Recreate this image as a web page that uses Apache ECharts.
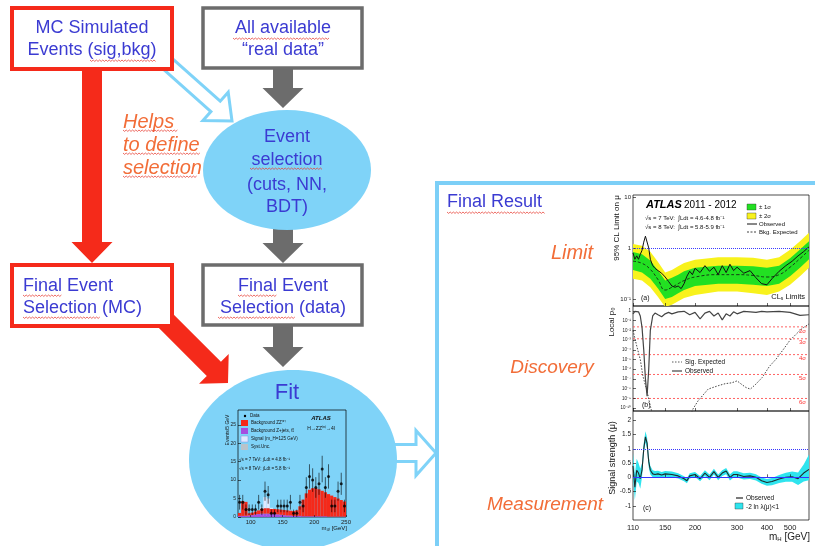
<!DOCTYPE html>
<html>
<head>
<meta charset="utf-8">
<script src="https://cdn.jsdelivr.net/npm/echarts@6/dist/echarts.min.js"></script>
<style>
  html, body { margin: 0; padding: 0; background: #fff; }
  #main { width: 815px; height: 546px; }
</style>
</head>
<body>
<div id="main"></div>
<script>
// ---------- Fit panel: H -> ZZ(*) -> 4l, 5 GeV bins ----------
const fitMass = [82.5, 87.5, 92.5, 97.5, 102.5, 107.5, 112.5, 117.5, 122.5, 127.5, 132.5, 137.5, 142.5, 147.5, 152.5, 157.5, 162.5,
  167.5, 172.5, 177.5, 182.5, 187.5, 192.5, 197.5, 202.5, 207.5, 212.5, 217.5, 222.5, 227.5, 232.5, 237.5, 242.5, 247.5]
const fitZjets = [0.3, 0.3, 0.3, 0.4, 0.5, 0.7, 0.8, 0.9, 0.9, 0.9, 0.8, 0.8, 0.7, 0.6, 0.5, 0.4, 0.4,
  0.3, 0.3, 0.3, 0.2, 0.2, 0.2, 0.2, 0.2, 0.2, 0.2, 0.2, 0.1, 0.1, 0.1, 0.1, 0.1, 0.1]
const fitZZ = [0.8, 4.0, 3.8, 0.6, 0.7, 0.8, 1.0, 1.3, 1.5, 1.5, 1.4, 1.4, 1.4, 1.4, 1.4, 1.4, 1.3,
  1.3, 1.5, 2.6, 4.5, 6.2, 7.2, 7.6, 7.6, 7.3, 6.9, 6.5, 6.1, 5.7, 5.3, 4.9, 4.5, 4.1]
const fitSignal = [0, 0, 0, 0, 0, 0, 0, 0.4, 3.0, 2.6, 0.3, 0, 0, 0, 0, 0, 0,
  0, 0, 0, 0, 0, 0, 0, 0, 0, 0, 0, 0, 0, 0, 0, 0, 0]
const fitData = [4, 4, 2, 2, 2, 2, 4, 2, 7, 6, 1, 1, 3, 3, 3, 3, 4,
  1, 1, 4, 3, 8, 11, 10, 8, 9, 13, 8, 11, 3, 3, 7, 9, 3]
const fitErr = [2, 2, 1.4, 1.4, 1.4, 1.4, 2, 1.4, 2.6, 2.4, 1, 1, 1.7, 1.7, 1.7, 1.7, 2,
  1, 1, 2, 1.7, 2.8, 3.3, 3.2, 2.8, 3, 3.6, 2.8, 3.3, 1.7, 1.7, 2.6, 3, 1.7]
const fitXTicks = [100, 150, 200, 250]
const fitYTicks = [0, 5, 10, 15, 20, 25]

// ---------- (a) 95% CL limit on mu ----------
const massExp = [110, 120, 130, 140, 150, 160, 170, 180, 200, 250, 300, 350, 400, 450, 500, 550, 600]
const expLimit = [0.55, 0.5, 0.38, 0.24, 0.15, 0.17, 0.2, 0.23, 0.27, 0.3, 0.3, 0.29, 0.27, 0.3, 0.42, 0.62, 0.9]
const exp1Up = [0.83, 0.75, 0.57, 0.36, 0.23, 0.26, 0.3, 0.35, 0.41, 0.45, 0.45, 0.44, 0.41, 0.45, 0.63, 0.93, 1.35]
const exp1Lo = [0.37, 0.33, 0.25, 0.16, 0.1, 0.11, 0.13, 0.15, 0.18, 0.2, 0.2, 0.19, 0.18, 0.2, 0.28, 0.41, 0.6]
const exp2Up = [1.2, 1.1, 0.84, 0.53, 0.33, 0.37, 0.44, 0.51, 0.59, 0.66, 0.66, 0.64, 0.59, 0.66, 0.92, 1.36, 1.98]
const exp2Lo = [0.25, 0.23, 0.17, 0.11, 0.07, 0.077, 0.09, 0.105, 0.12, 0.14, 0.14, 0.13, 0.12, 0.14, 0.19, 0.28, 0.41]
const massObsA = [110, 112, 114, 116, 118, 120, 122, 124, 126, 128, 130, 133, 136, 140, 145, 150, 155, 160, 165, 170, 175, 180, 185, 190,
  195, 200, 210, 220, 230, 240, 250, 260, 270, 280, 290, 300, 320, 340, 360, 380, 400, 420, 450, 480, 510, 540, 570, 600]
const obsLimit = [0.8, 0.6, 0.7, 0.6, 0.75, 0.9, 1.3, 1.7, 1.6, 1.0, 0.6, 0.45, 0.4, 0.36, 0.32, 0.27, 0.22, 0.18, 0.17, 0.18, 0.16, 0.2, 0.28, 0.35,
  0.3, 0.4, 0.33, 0.45, 0.35, 0.42, 0.3, 0.45, 0.33, 0.48, 0.36, 0.42, 0.32, 0.36, 0.26, 0.2, 0.19, 0.25, 0.35, 0.45, 0.55, 0.7, 0.85, 1.05]
const limitTicks = [0.1, 1, 10]

// ---------- (b) local p0 ----------
const massP0 = [110, 112, 114, 116, 118, 120, 122, 124, 126, 128, 130, 133, 136, 140, 145, 150, 155, 160, 170, 180, 190,
  200, 210, 220, 230, 240, 250, 260, 270, 280, 290, 300, 320, 340, 360, 380, 400, 450, 500, 550, 600]
const obsP0 = [0.5, 0.9, 0.6, 0.8, 0.3, 0.02, 1e-4, 1e-7, 1.7e-9, 1e-6, 0.01, 0.3, 0.6, 0.4, 0.25, 0.5, 0.7, 0.5, 0.8, 0.9, 0.4,
  0.7, 0.15, 0.6, 0.9, 0.3, 0.6, 0.12, 0.5, 0.3, 0.8, 0.5, 0.9, 0.8, 0.7, 0.9, 0.8, 0.9, 0.7, 0.35, 0.4]
const massExpP0 = [110, 114, 118, 121, 126, 130, 134, 190, 196, 206, 227, 250, 267, 285, 300, 315, 327, 341, 360, 382, 410,
  437, 470, 498, 530, 558, 600]
const expP0 = [1e-2, 2.5e-4, 1e-5, 2e-7, 5e-9, 1.6e-10, 1e-11, 1e-11, 8e-11, 5.6e-10, 9e-9, 2e-8, 3.2e-8, 4e-8, 6.3e-8, 2.5e-8, 1.3e-8, 9e-9, 3e-8, 1.4e-7, 2e-6,
  1.1e-5, 1.2e-4, 8.7e-4, 4e-3, 1.4e-2, 4.6e-2]
const p0Ticks = [1e-10, 1e-9, 1e-8, 1e-7, 1e-6, 1e-5, 1e-4, 1e-3, 1e-2, 1e-1, 1]
const sigmaP0 = [2.28e-2, 1.35e-3, 3.17e-5, 2.87e-7, 9.87e-10]
const sigmaNames = ['2σ', '3σ', '4σ', '5σ', '6σ']

// ---------- (c) signal strength ----------
const massMu = [110, 112, 114, 116, 118, 120, 122, 124, 126, 128, 130, 133, 136, 140, 145, 150, 160, 170, 180, 185, 190, 200,
  210, 220, 230, 240, 250, 260, 270, 280, 290, 300, 320, 340, 360, 380, 400, 420, 450, 480, 510, 540, 570, 600]
const muObs = [0.4, -0.35, 0.25, 0.15, -0.05, 0.25, 1.0, 1.42, 1.2, 0.55, 0.25, 0.12, 0.1, 0.12, 0.08, 0.12, 0.1, 0.05, -0.05, -0.12, 0.05, 0.1,
  -0.05, 0.15, 0.0, 0.2, 0.0, 0.15, 0.22, 0.0, 0.1, 0.1, 0.03, 0.05, 0.0, -0.12, -0.18, -0.15, -0.06, 0.0, 0.02, -0.05, 0.15, 0.28]
const muUp = [0.85, 0.1, 0.65, 0.5, 0.3, 0.5, 1.2, 1.62, 1.4, 0.75, 0.4, 0.25, 0.22, 0.23, 0.19, 0.22, 0.2, 0.14, 0.04, -0.03, 0.14, 0.19,
  0.05, 0.25, 0.1, 0.3, 0.1, 0.25, 0.33, 0.11, 0.21, 0.21, 0.14, 0.16, 0.11, -0.01, -0.06, -0.02, 0.08, 0.16, 0.2, 0.17, 0.45, 0.8]
const muLo = [-0.05, -0.8, -0.15, -0.2, -0.4, 0.0, 0.8, 1.22, 1.0, 0.35, 0.1, 0.0, -0.01, 0.01, -0.02, 0.02, 0.0, -0.04, -0.14, -0.21, -0.04, 0.01,
  -0.14, 0.05, -0.1, 0.1, -0.1, 0.05, 0.11, -0.11, -0.01, -0.01, -0.08, -0.06, -0.11, -0.23, -0.3, -0.28, -0.2, -0.16, -0.16, -0.27, -0.15, -0.1]
const muTicks = [-1, -0.5, 0, 0.5, 1, 1.5, 2]
const massTicks = [110, 150, 200, 300, 400, 500]

// ---------- styling ----------
const FONT = "'Liberation Sans', Arial, sans-serif"
const BLUE = '#3b3bd2'
const ORANGE = '#f26d38'
const RED = '#f52a1a'
const GRAY = '#6c6c6c'
const SKY = '#7fd3f8'

const pairs = (xs, ys) => xs.map((x, i) => [x, ys[i]])

// 10^n labels for log axes
const SUP = { '-': '⁻', 0: '⁰', 1: '¹', 2: '²', 3: '³', 4: '⁴', 5: '⁵', 6: '⁶', 7: '⁷', 8: '⁸', 9: '⁹' }
function logFmt(v) {
  const e = Math.round(Math.log10(v))
  if (e === 0) return '1'
  if (e === 1) return '10'
  return '10' + String(e).split('').map(c => SUP[c]).join('')
}

// ---------- diagram shapes ----------
const g = []

function arrowPts(x1, y1, x2, y2, sw, hw, hl) {
  const L = Math.hypot(x2 - x1, y2 - y1)
  const dx = (x2 - x1) / L, dy = (y2 - y1) / L
  const nx = -dy, ny = dx
  const bx = x2 - dx * hl, by = y2 - dy * hl
  return [
    [x1 + nx * sw / 2, y1 + ny * sw / 2], [bx + nx * sw / 2, by + ny * sw / 2], [bx + nx * hw / 2, by + ny * hw / 2],
    [x2, y2],
    [bx - nx * hw / 2, by - ny * hw / 2], [bx - nx * sw / 2, by - ny * sw / 2], [x1 - nx * sw / 2, y1 - ny * sw / 2]
  ]
}
function solidArrow(pts, color) {
  g.push({ type: 'polygon', z: 0, silent: true, shape: { points: pts }, style: { fill: color } })
}
function hollowArrow(pts) {
  g.push({ type: 'polygon', z: 0, silent: true, shape: { points: pts }, style: { fill: '#fff', stroke: SKY, lineWidth: 3, lineJoin: 'miter' } })
}
function box(x, y, w, h, color, lw) {
  g.push({ type: 'rect', z: 1, silent: true, shape: { x, y, width: w, height: h }, style: { fill: '#fff', stroke: color, lineWidth: lw } })
}
function ellipse(cx, cy, rx, ry) {
  g.push({ type: 'ellipse', z: 1, silent: true, shape: { cx, cy, rx, ry }, style: { fill: SKY } })
}
function txt(text, x, y, o = {}) {
  const align = o.align || 'center'
  g.push({
    type: 'text', x, y, rotation: o.rot || 0, z: o.z || 10, silent: true,
    style: {
      text, x: 0, y: 0, fill: o.color || BLUE,
      font: `${o.italic ? 'italic ' : ''}${o.bold ? 'bold ' : ''}${o.size || 18}px ${FONT}`,
      align, verticalAlign: 'middle', textAlign: align, textVerticalAlign: 'middle',
      rich: o.rich
    }
  })
}
// red spell-check squiggle
function squiggle(x1, x2, y) {
  const pts = []
  for (let x = x1, i = 0; x <= x2; x += 1.6, i++) pts.push([x, i % 2 ? y + 1.4 : y])
  g.push({ type: 'polyline', z: 10, silent: true, shape: { points: pts }, style: { stroke: '#e8463c', lineWidth: 0.8, fill: null } })
}

// arrows (drawn first, boxes/ellipses cover their tails)
solidArrow(arrowPts(283, 66, 283, 108, 20, 41, 20), GRAY)
solidArrow(arrowPts(283, 226, 283, 263, 20, 41, 20), GRAY)
solidArrow(arrowPts(283, 323, 283, 367, 20, 41, 20), GRAY)
solidArrow(arrowPts(92, 66, 92, 263, 20, 41, 21), RED)
solidArrow(arrowPts(150, 305, 228, 383, 20, 42, 20), RED)
hollowArrow(arrowPts(150, 48, 232, 121, 14, 38, 22))
hollowArrow(arrowPts(370, 453, 436, 453, 17, 45, 20))

// boxes and ellipses
box(12, 8, 160, 61, RED, 4)
box(203, 8, 159, 60, GRAY, 3.5)
box(12, 265, 160, 61, RED, 4)
box(203, 265, 159, 60, GRAY, 3.5)
ellipse(287, 170, 84, 60)
ellipse(293, 460, 104, 90)
g.push({ type: 'rect', z: 1, silent: true, shape: { x: 437, y: 183, width: 420, height: 420 }, style: { fill: null, stroke: '#7ccff7', lineWidth: 4 } })

// flowchart texts
txt('MC Simulated', 92, 28)
txt('Events (sig,bkg)', 92, 50)
txt('All available', 283, 28)
txt('“real data”', 283, 50)
txt('Event', 287, 137)
txt('selection', 287, 160)
txt('(cuts, NN,', 287, 185)
txt('BDT)', 287, 207)
txt('Final Event', 23, 286, { align: 'left' })
txt('Selection (MC)', 23, 308, { align: 'left' })
txt('Final Event', 283, 286)
txt('Selection (data)', 283, 308)
txt('Helps', 123, 122, { align: 'left', italic: true, color: ORANGE, size: 20 })
txt('to define', 123, 145, { align: 'left', italic: true, color: ORANGE, size: 20 })
txt('selection', 123, 168, { align: 'left', italic: true, color: ORANGE, size: 20 })
txt('Fit', 287, 393, { size: 22 })
txt('Final Result', 447, 202, { align: 'left' })
txt('Limit', 572, 253, { italic: true, color: ORANGE, size: 20 })
txt('Discovery', 552, 368, { italic: true, color: ORANGE, size: 19 })
txt('Measurement', 545, 505, { italic: true, color: ORANGE, size: 19 })

squiggle(90, 157, 60)
squiggle(233, 330, 38)
squiggle(123, 178, 130)
squiggle(123, 200, 153)
squiggle(123, 197, 176)
squiggle(250, 323, 168)
squiggle(23, 62, 295)
squiggle(23, 100, 317)
squiggle(238, 277, 295)
squiggle(218, 295, 317)
squiggle(447, 545, 212)

// fit-plot annotations
const K = '#111'
txt('Events/5 GeV', 228, 430, { rot: Math.PI / 2, size: 5, color: K })
txt('m₄ₗ [GeV]', 347, 528, { align: 'right', size: 6, color: K })
g.push({ type: 'circle', z: 10, silent: true, shape: { cx: 245, cy: 416, r: 1.2 }, style: { fill: '#000' } })
txt('Data', 250, 416, { align: 'left', size: 4.5, color: K })
const fitLegend = [['#f5291a', 'Background ZZ⁽*⁾'], ['#a54de0', 'Background Z+jets, tt̄'], ['#dfe9ff', 'Signal (m_H=125 GeV)'], ['#b9c3cb', 'Syst.Unc.']]
fitLegend.forEach(([c, t], i) => {
  g.push({ type: 'rect', z: 10, silent: true, shape: { x: 241, y: 420 + i * 8, width: 7, height: 6 }, style: { fill: c, stroke: i === 2 ? '#8090d8' : null, lineWidth: 0.5 } })
  txt(t, 251, 423 + i * 8, { align: 'left', size: 4.5, color: K })
})
txt('ATLAS', 321, 418, { bold: true, italic: true, size: 6, color: K })
txt('H→ZZ⁽*⁾→4l', 321, 429, { size: 5, color: K })
txt('√s = 7 TeV: ∫Ldt = 4.8 fb⁻¹', 239, 460, { align: 'left', size: 4.5, color: K })
txt('√s = 8 TeV: ∫Ldt = 5.8 fb⁻¹', 239, 469, { align: 'left', size: 4.5, color: K })

// ATLAS result-plot annotations
txt('95% CL Limit on μ', 617, 228, { rot: Math.PI / 2, size: 8, color: K })
txt('Local p₀', 612, 322, { rot: Math.PI / 2, size: 8, color: K })
txt('Signal strength (μ)', 613, 458, { rot: Math.PI / 2, size: 9, color: K })
txt('ATLAS', 646, 205, { align: 'left', bold: true, italic: true, size: 11, color: '#000' })
txt('2011 - 2012', 684, 205, { align: 'left', size: 10, color: '#000' })
txt('√s = 7 TeV:  ∫Ldt = 4.6-4.8 fb⁻¹', 645, 218, { align: 'left', size: 6, color: K })
txt('√s = 8 TeV:  ∫Ldt = 5.8-5.9 fb⁻¹', 645, 227, { align: 'left', size: 6, color: K })
g.push({ type: 'rect', z: 10, silent: true, shape: { x: 747, y: 204, width: 9, height: 6 }, style: { fill: '#22e022', stroke: '#333', lineWidth: 0.4 } })
g.push({ type: 'rect', z: 10, silent: true, shape: { x: 747, y: 213, width: 9, height: 6 }, style: { fill: '#f8f21c', stroke: '#333', lineWidth: 0.4 } })
g.push({ type: 'line', z: 10, silent: true, shape: { x1: 747, y1: 224, x2: 757, y2: 224 }, style: { stroke: '#111', lineWidth: 1 } })
g.push({ type: 'line', z: 10, silent: true, shape: { x1: 747, y1: 232, x2: 757, y2: 232 }, style: { stroke: '#111', lineWidth: 0.8, lineDash: [2, 1.5] } })
txt('± 1σ', 759, 207, { align: 'left', size: 6, color: K })
txt('± 2σ', 759, 216, { align: 'left', size: 6, color: K })
txt('Observed', 759, 224, { align: 'left', size: 6, color: K })
txt('Bkg. Expected', 759, 232, { align: 'left', size: 6, color: K })
txt('(a)', 641, 298, { align: 'left', size: 7, color: K })
txt('CL{s|s} Limits', 805, 297, { align: 'right', size: 7.5, color: K, rich: { s: { fontSize: 5, verticalAlign: 'bottom', fill: K } } })

g.push({ type: 'line', z: 10, silent: true, shape: { x1: 672, y1: 362, x2: 682, y2: 362 }, style: { stroke: '#333', lineWidth: 0.8, lineDash: [1.5, 1.5] } })
g.push({ type: 'line', z: 10, silent: true, shape: { x1: 672, y1: 371, x2: 682, y2: 371 }, style: { stroke: '#444', lineWidth: 1.2 } })
txt('Sig. Expected', 685, 362, { align: 'left', size: 6.5, color: K })
txt('Observed', 685, 371, { align: 'left', size: 6.5, color: K })
txt('(b)', 642, 405, { align: 'left', size: 7, color: K })

g.push({ type: 'line', z: 10, silent: true, shape: { x1: 736, y1: 498, x2: 743, y2: 498 }, style: { stroke: '#222', lineWidth: 1.2 } })
g.push({ type: 'rect', z: 10, silent: true, shape: { x: 735, y: 503, width: 8, height: 6 }, style: { fill: '#2fe4ee', stroke: '#333', lineWidth: 0.4 } })
txt('Observed', 746, 498, { align: 'left', size: 6.5, color: K })
txt('-2 ln λ(μ)<1', 746, 507, { align: 'left', size: 6.5, color: K })
txt('(c)', 643, 508, { align: 'left', size: 7, color: K })
txt('m{s|H} [GeV]', 810, 537, { align: 'right', size: 10, color: '#222', rich: { s: { fontSize: 6, verticalAlign: 'bottom', fill: '#222' } } })

// ---------- axes / grids ----------
function logX(gi, showLabel) {
  return {
    gridIndex: gi, type: 'log', min: 110, max: 600, z: 3,
    axisLine: { show: false }, splitLine: { show: false },
    axisTick: { inside: true, length: 3, customValues: massTicks, lineStyle: { color: '#000', width: 0.6 } },
    axisLabel: { show: showLabel, customValues: massTicks, fontSize: 7.5, color: '#222', margin: 4, fontFamily: FONT }
  }
}
function yAx(gi, type, min, max, ticks, size, fmt) {
  return {
    gridIndex: gi, type, min, max, z: 3,
    axisLine: { show: false }, splitLine: { show: false },
    axisTick: { inside: true, length: 3, customValues: ticks, lineStyle: { color: '#000', width: 0.6 } },
    axisLabel: { customValues: ticks, fontSize: size, color: '#222', margin: 2, fontFamily: FONT, formatter: fmt }
  }
}
const frame = { show: true, borderColor: '#000', borderWidth: 0.7, backgroundColor: 'transparent', outerBoundsMode: 'none', z: 2 }

// band between lo and up, drawn as one polygon through the axes
function bandSeries(gi, xs, lo, up, color) {
  return {
    type: 'custom', xAxisIndex: gi, yAxisIndex: gi, clip: true, silent: true,
    data: xs.map((x, i) => [x, lo[i], up[i]]),
    encode: { x: 0, y: [1, 2] },
    renderItem: (params, api) => {
      if (params.dataIndex !== 0) return
      const top = xs.map((x, i) => api.coord([x, up[i]]))
      const bottom = xs.map((x, i) => api.coord([x, lo[i]])).reverse()
      return { type: 'polygon', shape: { points: top.concat(bottom) }, style: { fill: color } }
    }
  }
}
function fitBar(values, color) {
  return {
    type: 'bar', xAxisIndex: 0, yAxisIndex: 0, stack: 'fit', barCategoryGap: '0%', barGap: '0%',
    data: values, itemStyle: { color, borderWidth: 0 }, silent: true
  }
}

const myChart = echarts.init(document.getElementById('main'), null, { renderer: 'canvas' })

const option = {
  backgroundColor: '#fff',
  animation: false,
  textStyle: { fontFamily: FONT },
  graphic: { elements: g },
  grid: [
    Object.assign({ left: 238, top: 410, width: 108, height: 107 }, frame),
    Object.assign({ left: 633, top: 195, width: 176, height: 111 }, frame),
    Object.assign({ left: 633, top: 306, width: 176, height: 105 }, frame),
    Object.assign({ left: 633, top: 411, width: 176, height: 109 }, frame)
  ],
  xAxis: [
    // bins of the fit histogram (hidden, carries the bars)
    { gridIndex: 0, type: 'category', data: fitMass, show: false, position: 'top', boundaryGap: true },
    logX(1, false),
    logX(2, false),
    logX(3, true),
    // visible mass scale of the fit panel
    {
      gridIndex: 0, type: 'value', min: 80, max: 250, z: 3, position: 'bottom',
      axisLine: { show: false }, splitLine: { show: false },
      axisTick: { inside: true, length: 2, customValues: fitXTicks, lineStyle: { color: '#000', width: 0.5 } },
      axisLabel: { customValues: fitXTicks, fontSize: 6, color: '#222', margin: 2, fontFamily: FONT }
    }
  ],
  yAxis: [
    yAx(0, 'value', 0, 29, fitYTicks, 5),
    yAx(1, 'log', 0.073, 10.9, limitTicks, 6, logFmt),
    yAx(2, 'log', 5e-11, 3.2, p0Ticks, 4.5, logFmt),
    yAx(3, 'value', -1.5, 2.33, muTicks, 6.5)
  ],
  series: [
    // Fit: stacked backgrounds + signal, data with error bars
    fitBar(fitZjets, '#a54de0'),
    fitBar(fitZZ, '#f5291a'),
    fitBar(fitSignal, '#dfe9ff'),
    {
      type: 'custom', xAxisIndex: 4, yAxisIndex: 0, clip: true, silent: true, z: 4,
      data: fitMass.map((m, i) => [m, fitData[i], fitErr[i]]),
      renderItem: (params, api) => {
        const x = api.value(0), y = api.value(1), e = api.value(2)
        const a = api.coord([x, y - e]), b = api.coord([x, y + e])
        return { type: 'line', shape: { x1: a[0], y1: a[1], x2: b[0], y2: b[1] }, style: { stroke: '#000', lineWidth: 0.6 } }
      }
    },
    {
      type: 'scatter', xAxisIndex: 4, yAxisIndex: 0, symbolSize: 3, z: 5, silent: true,
      data: pairs(fitMass, fitData), itemStyle: { color: '#000' }
    },

    // (a) limit
    bandSeries(1, massExp, exp2Lo, exp2Up, '#f8f21c'),
    bandSeries(1, massExp, exp1Lo, exp1Up, '#22e022'),
    {
      type: 'line', xAxisIndex: 1, yAxisIndex: 1, symbol: 'none', smooth: true,
      data: pairs(massExp, expLimit), lineStyle: { color: '#111', width: 0.8, type: [3, 2] }
    },
    {
      type: 'line', xAxisIndex: 1, yAxisIndex: 1, symbol: 'none',
      data: pairs(massObsA, obsLimit), lineStyle: { color: '#111', width: 1 },
      markLine: {
        symbol: 'none', silent: true, label: { show: false },
        lineStyle: { color: '#3a3aff', type: 'dotted', width: 1 }, data: [{ yAxis: 1 }]
      }
    },

    // (b) local p0: sigma reference lines, expected and observed
    {
      type: 'custom', xAxisIndex: 2, yAxisIndex: 2, silent: true, clip: false,
      data: sigmaP0.map((v, i) => [110, v, i]),
      encode: { x: 0, y: 1 },
      renderItem: (params, api) => {
        const v = api.value(1)
        const a = api.coord([110, v]), b = api.coord([600, v])
        return {
          type: 'group',
          children: [
            { type: 'line', shape: { x1: a[0], y1: a[1], x2: b[0], y2: b[1] }, style: { stroke: '#ff5050', lineWidth: 0.9, lineDash: [2, 2] } },
            {
              type: 'text', x: b[0] - 3, y: a[1] + 4,
              style: { text: sigmaNames[api.value(2)], fill: '#ff3030', font: `6px ${FONT}`, align: 'right', verticalAlign: 'middle' }
            }
          ]
        }
      }
    },
    {
      type: 'line', xAxisIndex: 2, yAxisIndex: 2, symbol: 'none',
      data: pairs(massExpP0, expP0), lineStyle: { color: '#333', width: 0.9, type: [1.5, 1.5] }
    },
    {
      type: 'line', xAxisIndex: 2, yAxisIndex: 2, symbol: 'none',
      data: pairs(massP0, obsP0), lineStyle: { color: '#444', width: 1.2 }
    },

    // (c) signal strength
    bandSeries(3, massMu, muLo, muUp, '#2fe4ee'),
    {
      type: 'line', xAxisIndex: 3, yAxisIndex: 3, symbol: 'none',
      data: pairs(massMu, muObs), lineStyle: { color: '#1d2b2b', width: 1.1 },
      markLine: {
        symbol: 'none', silent: true, label: { show: false },
        lineStyle: { color: '#3434ff', width: 1 },
        data: [{ yAxis: 1, lineStyle: { type: 'dotted' } }, { yAxis: 0, lineStyle: { type: 'solid' } }]
      }
    }
  ]
}

myChart.setOption(option)
</script>
</body>
</html>
